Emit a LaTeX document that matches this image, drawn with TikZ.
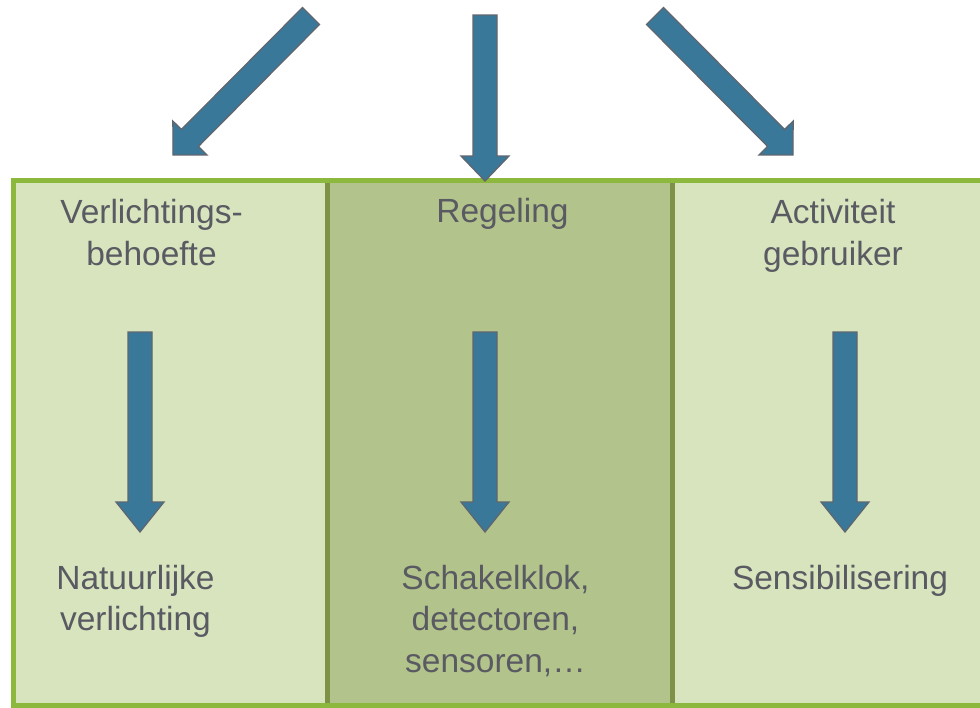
\documentclass[tikz,border=0pt]{standalone}
\usepackage{fontspec}
\setmainfont{Liberation Sans}
\usetikzlibrary{calc}
\definecolor{panellight}{HTML}{D7E4BD}
\definecolor{panelmid}{HTML}{B2C38B}
\definecolor{framegreen}{HTML}{8CB83D}
\definecolor{divgreen}{HTML}{7F9147}
\definecolor{arrowblue}{HTML}{3A7899}
\definecolor{arrowline}{HTML}{5F6670}
\definecolor{textgray}{HTML}{5A5A62}
\begin{document}
\begin{tikzpicture}[x=1pt,y=-1pt,line join=miter,font=\fontsize{33.5}{41.5}\selectfont]
				\tikzset{
					lbl/.style={text=textgray,align=center,anchor=base,inner sep=0pt},
					blockarrow/.style={draw=arrowline,fill=arrowblue,line width=1.3pt,to path={
							($(\tikztostart)!12pt!90:(\tikztotarget)$)
							-- ($(\tikztotarget)!#1!(\tikztostart)!12pt!90:(\tikztotarget)$)
							-- ($(\tikztotarget)!#1!(\tikztostart)!24pt!90:(\tikztotarget)$)
							-- (\tikztotarget)
							-- ($(\tikztotarget)!#1!(\tikztostart)!24pt!-90:(\tikztotarget)$)
							-- ($(\tikztotarget)!#1!(\tikztostart)!12pt!-90:(\tikztotarget)$)
							-- ($(\tikztostart)!12pt!-90:(\tikztotarget)$) -- cycle}},
					blockarrow/.default=24pt
				}
				\useasboundingbox (0,0) rectangle (980,707);
				\clip (0,0) rectangle (980,707);
				% panels
				\fill[panellight] (13,181) rectangle (327,705);
				\fill[panelmid] (327,181) rectangle (672,705);
				\fill[panellight] (672,181) rectangle (995,705);
				\foreach \x in {327.5,672.5}{
					\draw[divgreen,line width=4.5pt] (\x,181)--(\x,705);
				}
				\draw[framegreen,line width=5pt] (13,705) -- (13,180.5) -- (995,180.5) -- (995,705) -- cycle;
				% texts (base = last line)
				\node[lbl] (verl) at (151.5,265) {Verlichtings-\\behoefte};
				\node[lbl] (regel) at (502.5,222) {Regeling};
				\node[lbl] (activ) at (833,265) {Activiteit\\gebruiker};
				\node[lbl] (natuur) at (135.5,630.5) {Natuurlijke\\verlichting};
				\node[lbl] (schakel) at (495.5,672) {Schakelklok,\\detectoren,\\sensoren,…};
				\node[lbl] (sensib) at (840,589) {Sensibilisering};
				% arrows
				\coordinate (tl) at (311,16);
				\coordinate (hl) at (173,155);
				\coordinate (tm) at (485,15);
				\coordinate (hm) at (485,181);
				\coordinate (tr) at (655,16);
				\coordinate (hr) at (793,155);
				\foreach \a/\b in {tl/hl,tr/hr}{
					\draw[blockarrow] (\a) to (\b);
				}
				\draw[blockarrow=25pt] (tm) to (hm);
				\foreach \x/\n in {140/1,485/2,845/3}{
					\coordinate (a\n) at (\x,332);
					\coordinate (b\n) at (\x,532);
					\draw[blockarrow=30pt] (a\n) to (b\n);
				}
			\end{tikzpicture}
\end{document}
